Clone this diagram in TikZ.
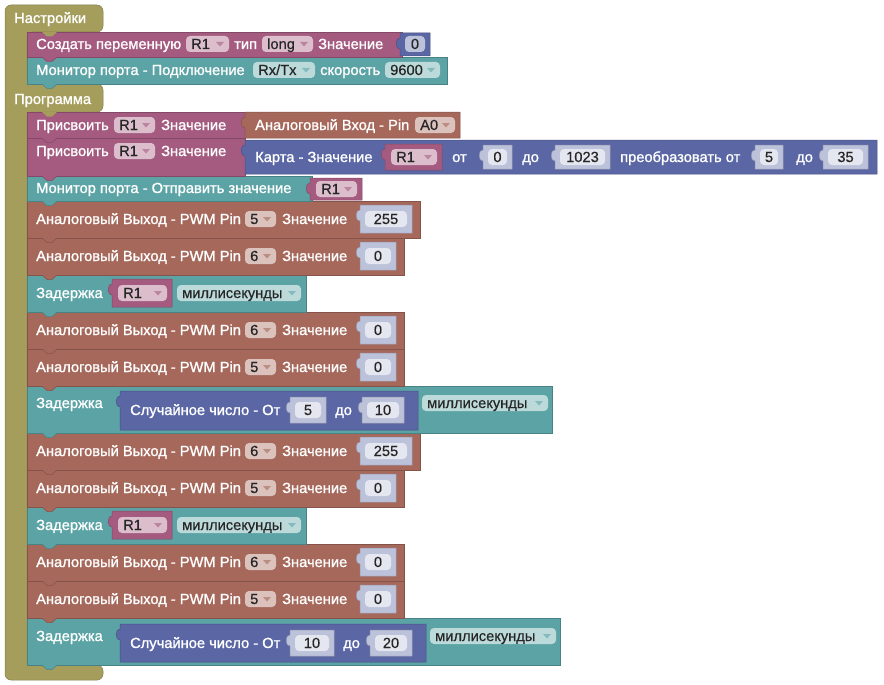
\documentclass[tikz,border=0pt]{standalone}
\usepackage{fontspec}
\setmainfont{Liberation Sans}
\newfontfamily\lblfamily[FakeBold=1.2]{Liberation Sans}
\newfontfamily\fldfamily[FakeBold=0.4]{Liberation Sans}
\definecolor{cOlive}{RGB}{165,157,92}
\definecolor{cPurp}{RGB}{165,91,128}
\definecolor{cTeal}{RGB}{91,163,165}
\definecolor{cBrown}{RGB}{165,104,91}
\definecolor{cBlue}{RGB}{91,103,165}
\colorlet{cShadow}{cBlue!40!white}
\newcommand{\lblfont}{\lblfamily\fontsize{14.67}{16}\selectfont}
\newcommand{\fldfont}{\fldfamily\fontsize{14.67}{16}\selectfont}
\tikzset{
  lbl/.style={anchor=base west, inner sep=0pt, text=white, font=\lblfont},
  ftxt/.style={anchor=base west, inner sep=0pt, text=black!85, font=\fldfont},
  ntxt/.style={anchor=base, inner sep=0pt, text=black!85, font=\fldfont},
  blk/.style={fill=#1, draw=#1!80!black, line width=0.5pt},
}
% statement block with bottom tab
\newcommand{\SB}[5]{%
  \path[blk=#5] (#1,#2) rectangle (#3,#4);
  \path[blk=#5] (#1+15,#4) -- (#1+20,#4+4.5) -- (#1+25,#4+4.5) -- (#1+30,#4);}
% value block with left tab
\newcommand{\VB}[5]{%
  \path[blk=#5] (#1,#2) -- (#3,#2) -- (#3,#4) -- (#1,#4) -- (#1,#2+16)
    .. controls (#1-5,#2+17) and (#1-5,#2+4) .. (#1,#2+5) -- cycle;}
% dropdown field
\newcommand{\DD}[6]{%
  \fill[white, fill opacity=0.6, rounded corners=4pt] (#2,#4-8) rectangle (#3,#4+8);
  \node[ftxt] (#1) at (#2+5,#4+5) {#5};
  \fill[#6!75!white] (#3-13,#4-2) -- (#3-5,#4-2) -- (#3-9,#4+2.5) -- cycle;}
% number block
\newcommand{\NB}[7]{%
  \VB{#2}{#4-#5}{#3}{#4+#5}{#7}
  \fill[white, fill opacity=0.6, rounded corners=4pt] (#2+5,#4-8) rectangle (#3-5,#4+8);
  \node[ntxt] (#1) at ({(#2+#3)/2},#4+5) {#6};}
% variable block
\newcommand{\VAR}[5]{%
  \VB{#2}{#4-#5}{#3}{#4+#5}{cPurp}
  \DD{#1}{#2+6}{#3-5}{#4}{R1}{cPurp}}
\newcommand{\LB}[4]{\node[lbl] (#1) at (#2,#3+5) {#4};}
\newcommand{\AO}[5]{%
  \LB{#1a}{36}{#2}{Аналоговый Выход - PWM Pin}
  \DD{#1b}{245}{276}{#2}{#3}{cBrown}
  \LB{#1c}{282}{#2}{Значение}
  \NB{#1d}{360}{#5}{#2}{14}{#4}{cShadow}}
\newcommand{\DLR}[2]{%
  \LB{#1a}{36}{#2}{Задержка}
  \VAR{#1b}{112}{172}{#2}{14}
  \DD{#1c}{177}{301}{#2}{миллисекунды}{cTeal}}
\begin{document}
\begin{tikzpicture}[x=1pt,y=-1pt]
\useasboundingbox (0,0) rectangle (884,685);
% olive frame
\path[blk=cOlive, rounded corners=6pt] (5,5) -- (103,5) -- (103,32) -- (27,32) -- (27,84) -- (103,84) -- (103,112) -- (27,112) -- (27,665) -- (103,665) -- (103,680) -- (5,680) -- cycle;
% statement blocks, bottom to top
\SB{27}{618}{560}{665}{cTeal}
\SB{27}{581}{404}{618}{cBrown}
\SB{27}{544}{404}{581}{cBrown}
\SB{27}{507}{306}{544}{cTeal}
\SB{27}{470}{404}{507}{cBrown}
\SB{27}{433}{420}{470}{cBrown}
\SB{27}{386}{552}{433}{cTeal}
\SB{27}{349}{404}{386}{cBrown}
\SB{27}{312}{404}{349}{cBrown}
\SB{27}{275}{306}{312}{cTeal}
\SB{27}{238}{404}{275}{cBrown}
\SB{27}{201}{420}{238}{cBrown}
\SB{27}{176}{312}{201}{cTeal}
\SB{27}{138}{245}{176}{cPurp}
\SB{27}{112}{245}{138}{cPurp}
\SB{27}{57}{447}{84}{cTeal}
\SB{27}{32}{402}{57}{cPurp}
% olive tabs into first blocks
\fill[cOlive] (42,32) -- (47,36.5) -- (52,36.5) -- (57,32) -- cycle;
\fill[cOlive] (42,112) -- (47,116.5) -- (52,116.5) -- (57,112) -- cycle;
% headers
\LB{hSet}{14}{18}{Настройки}
\LB{hProg}{14}{99}{Программа}
% settings
\LB{s1a}{36}{44}{Создать переменную}
\DD{s1b}{186}{229}{44}{R1}{cPurp}
\LB{s1c}{234}{44}{тип}
\DD{s1d}{262}{313}{44}{long}{cPurp}
\LB{s1e}{318}{44}{Значение}
\VB{400}{33}{430}{56}{cBlue}
\fill[white, fill opacity=0.6, rounded corners=4pt] (405,36) rectangle (425,52);
\node[ntxt] (s1f) at (415,49) {0};
\LB{s2a}{36}{70}{Монитор порта - Подключение}
\DD{s2b}{253}{315}{70}{Rx/Tx}{cTeal}
\LB{s2c}{320}{70}{скорость}
\DD{s2d}{385}{440}{70}{9600}{cTeal}
% program
\LB{p1a}{36}{125}{Присвоить}
\DD{p1b}{114}{155}{125}{R1}{cPurp}
\LB{p1c}{161}{125}{Значение}
\VB{245}{112}{460}{138}{cBrown}
\LB{p1d}{255}{125}{Аналоговый Вход - Pin}
\DD{p1e}{415}{455}{125}{A0}{cBrown}
\LB{p2a}{36}{151}{Присвоить}
\DD{p2b}{114}{155}{151}{R1}{cPurp}
\LB{p2c}{161}{151}{Значение}
\VB{245}{140}{877}{174}{cBlue}
\LB{p2d}{255}{157}{Карта - Значение}
\VAR{p2e}{385}{442}{157}{13}
\LB{p2f}{452}{157}{от}
\NB{p2g}{483}{512}{157}{12}{0}{cShadow}
\LB{p2h}{522}{157}{до}
\NB{p2i}{555}{610}{157}{12}{1023}{cShadow}
\LB{p2j}{620}{157}{преобразовать от}
\NB{p2k}{755}{783}{157}{12}{5}{cShadow}
\LB{p2l}{796}{157}{до}
\NB{p2m}{823}{868}{157}{12}{35}{cShadow}
\LB{p3a}{36}{188}{Монитор порта - Отправить значение}
\VAR{p3b}{310}{362}{189}{11}
\AO{p4}{219}{5}{255}{412}
\AO{p5}{256}{6}{0}{396}
\DLR{p6}{293}
\AO{p7}{330}{6}{0}{396}
\AO{p8}{367}{5}{0}{396}
\LB{p9a}{36}{403}{Задержка}
\VB{120}{391}{418}{430}{cBlue}
\LB{p9b}{130}{410}{Случайное число - От}
\NB{p9c}{290}{326}{410}{13}{5}{cShadow}
\LB{p9d}{335}{410}{до}
\NB{p9e}{362}{404}{410}{13}{10}{cShadow}
\DD{p9f}{422}{548}{403}{миллисекунды}{cTeal}
\AO{p10}{451}{6}{255}{412}
\AO{p11}{488}{5}{0}{396}
\DLR{p12}{525}
\AO{p13}{562}{6}{0}{396}
\AO{p14}{599}{5}{0}{396}
\LB{p15a}{36}{636}{Задержка}
\VB{120}{624}{426}{662}{cBlue}
\LB{p15b}{130}{643}{Случайное число - От}
\NB{p15c}{290}{334}{643}{13}{10}{cShadow}
\LB{p15d}{343}{643}{до}
\NB{p15e}{370}{412}{643}{13}{20}{cShadow}
\DD{p15f}{430}{556}{636}{миллисекунды}{cTeal}
\end{tikzpicture}
\end{document}
